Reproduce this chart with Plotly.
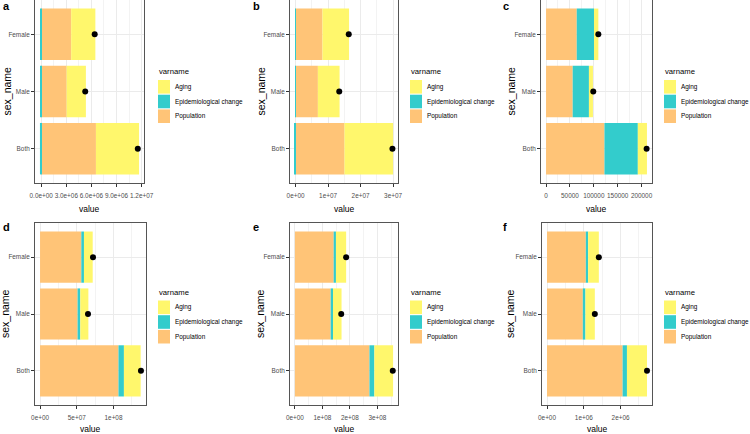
import plotly.graph_objects as go

# ---------------- data ----------------
sexes = ["Female", "Male", "Both"]
components = ["Population", "Epidemiological change", "Aging"]
legend_order = ["Aging", "Epidemiological change", "Population"]
panel_labels = ["a", "b", "c", "d", "e", "f"]

a_population = [3.58e6, 3.04e6, 6.54e6]
a_epidemiological = [-0.08e6, -0.08e6, -0.15e6]
a_aging = [2.89e6, 2.30e6, 5.15e6]
a_total = [6.39e6, 5.26e6, 11.54e6]
a_tickvals = [0, 3e6, 6e6, 9e6, 1.2e7]
a_ticktext = ["0.0e+00", "3.0e+06", "6.0e+06", "9.0e+06", "1.2e+07"]

b_population = [8.28e6, 6.87e6, 15.05e6]
b_epidemiological = [-0.1e6, -0.1e6, -0.2e6]
b_aging = [8.18e6, 6.67e6, 14.95e6]
b_total = [16.36e6, 13.44e6, 29.8e6]
b_tickvals = [0, 1e7, 2e7, 3e7]
b_ticktext = ["0e+00", "1e+07", "2e+07", "3e+07"]

c_population = [64300, 55800, 122300]
c_epidemiological = [36100, 34000, 69900]
c_aging = [9100, 8400, 19100]
c_total = [109500, 98900, 210600]
c_tickvals = [0, 50000, 100000, 150000, 200000]
c_ticktext = ["0", "50000", "100000", "150000", "200000"]

d_population = [56.2e6, 51.1e6, 106.8e6]
d_epidemiological = [3.6e6, 3.7e6, 7.4e6]
d_aging = [11.9e6, 11.0e6, 22.8e6]
d_total = [72.1e6, 65.3e6, 137.4e6]
d_tickvals = [0, 5e7, 1e8]
d_ticktext = ["0e+00", "5e+07", "1e+08"]

e_population = [141.0e6, 130.2e6, 271.2e6]
e_epidemiological = [8.3e6, 8.4e6, 17.9e6]
e_aging = [37.1e6, 31.1e6, 68.1e6]
e_total = [186.4e6, 168.5e6, 356.0e6]
e_tickvals = [0, 1e8, 2e8, 3e8]
e_ticktext = ["0e+00", "1e+08", "2e+08", "3e+08"]

f_population = [1.055e6, 0.973e6, 2.055e6]
f_epidemiological = [0.063e6, 0.072e6, 0.118e6]
f_aging = [0.291e6, 0.255e6, 0.545e6]
f_total = [1.409e6, 1.300e6, 2.718e6]
f_tickvals = [0, 1e6, 2e6]
f_ticktext = ["0e+00", "1e+06", "2e+06"]

panel_data = [
    (a_population, a_epidemiological, a_aging, a_total, a_tickvals, a_ticktext),
    (b_population, b_epidemiological, b_aging, b_total, b_tickvals, b_ticktext),
    (c_population, c_epidemiological, c_aging, c_total, c_tickvals, c_ticktext),
    (d_population, d_epidemiological, d_aging, d_total, d_tickvals, d_ticktext),
    (e_population, e_epidemiological, e_aging, e_total, e_tickvals, e_ticktext),
    (f_population, f_epidemiological, f_aging, f_total, f_tickvals, f_ticktext),
]

# ---------------- style / layout ----------------
W, H = 750, 434
colors = {"Population": "#FFC477", "Epidemiological change": "#33CCCC", "Aging": "#FFF76C"}
FONT = "Liberation Sans, Arial, sans-serif"
TICK_SIZE = 6.4

# panel boxes in pixels: (left, right, top, bottom)
boxes = [
    (35, 144, 0, 183), (290, 398, 0, 183), (541, 652, 0, 183),
    (35, 146, 223, 405), (290, 398, 223, 405), (542, 652, 223, 405),
]
legend_x = [158, 410, 664, 158, 410, 664]
legend_key_top = [80, 80, 80, 300.5, 300.5, 300.5]
ytitle_x = [6, 260, 510, 5, 260, 510]
label_x = [1, 251, 501, 1, 251, 501]
label_y = [6, 6, 6, 227, 227, 227]
xtitle_y = [208.5, 208.5, 208.5, 429, 429, 429]
KEY_W, KEY_H, KEY_STEP = 12, 13.6, 14.7

fig = go.Figure()
annotations = []
shapes = []
for i, (pop, epi, aging, total, tv, tt) in enumerate(panel_data):
    n = i + 1
    xa = "x" if n == 1 else f"x{n}"
    ya = "y" if n == 1 else f"y{n}"
    for comp, vals in zip(components, [pop, epi, aging]):
        fig.add_trace(go.Bar(
            y=sexes, x=vals, orientation="h", name=comp, showlegend=False,
            marker=dict(color=colors[comp], line=dict(width=0)),
            xaxis=xa, yaxis=ya, width=0.9,
        ))
    fig.add_trace(go.Scatter(
        y=sexes, x=total, mode="markers", showlegend=False,
        marker=dict(color="black", size=6), xaxis=xa, yaxis=ya,
    ))

    neg = [min(v, 0) for v in epi]
    pos = [p + max(e, 0) + max(g, 0) for p, e, g in zip(pop, epi, aging)]
    lo = min(min(neg), 0, min(total))
    hi = max(max(pos), max(total))
    span = hi - lo
    rng = [lo - 0.05 * span, hi + 0.05 * span]

    L, R, T, B = boxes[i]
    xkey = "xaxis" if n == 1 else f"xaxis{n}"
    ykey = "yaxis" if n == 1 else f"yaxis{n}"
    fig.layout[xkey] = dict(
        domain=[L / W, R / W], anchor=ya, range=rng,
        tickmode="array", tickvals=tv, ticktext=tt, tickangle=0,
        tickfont=dict(size=TICK_SIZE, color="#4D4D4D", family=FONT),
        ticks="outside", ticklen=3, tickcolor="#333333", tickwidth=0.8,
        ticklabelstandoff=3,
        showgrid=True, gridcolor="#EBEBEB", gridwidth=1,
        minor=dict(dtick=(tv[1] - tv[0]) / 2, tick0=0, showgrid=True,
                   gridcolor="#F3F3F3", gridwidth=0.6, ticklen=0),
        showline=True, mirror=True, linecolor="#555555", linewidth=1,
        zeroline=False, fixedrange=True,
    )
    fig.layout[ykey] = dict(
        domain=[1 - B / H, 1 - T / H], anchor=xa,
        categoryorder="array", categoryarray=["Both", "Male", "Female"],
        range=[-0.6, 2.6],
        tickfont=dict(size=TICK_SIZE, color="#4D4D4D", family=FONT),
        ticks="outside", ticklen=3, tickcolor="#333333", tickwidth=0.8,
        showgrid=True, gridcolor="#EBEBEB", gridwidth=1,
        showline=True, mirror=True, linecolor="#555555", linewidth=1,
        zeroline=False, fixedrange=True,
    )

    # legend (ggplot style: title above square keys)
    lx, kt = legend_x[i], legend_key_top[i]
    annotations.append(dict(
        x=(lx - 1) / W, y=1 - (kt - 8.5) / H, xref="paper", yref="paper",
        text="varname", showarrow=False, xanchor="left", yanchor="middle",
        font=dict(size=7.7, color="black", family=FONT),
    ))
    for k, comp in enumerate(legend_order):
        top = kt + k * KEY_STEP
        shapes.append(dict(
            type="rect", xref="paper", yref="paper",
            x0=lx / W, x1=(lx + KEY_W) / W,
            y0=1 - (top + KEY_H) / H, y1=1 - top / H,
            fillcolor=colors[comp], line=dict(width=0),
        ))
        annotations.append(dict(
            x=(lx + 15) / W, y=1 - (top + KEY_H / 2) / H, xref="paper", yref="paper",
            text=comp, showarrow=False, xanchor="left", yanchor="middle",
            font=dict(size=6.4, color="black", family=FONT),
        ))

    annotations.append(dict(
        x=(L + R) / 2 / W, y=1 - xtitle_y[i] / H, xref="paper", yref="paper",
        text="value", showarrow=False, font=dict(size=8.5, color="black", family=FONT),
        xanchor="center", yanchor="middle",
    ))
    annotations.append(dict(
        x=ytitle_x[i] / W, y=1 - (T + B) / 2 / H, xref="paper", yref="paper",
        text="sex_name", textangle=-90, showarrow=False,
        font=dict(size=10.5, color="black", family=FONT),
        xanchor="center", yanchor="middle",
    ))
    annotations.append(dict(
        x=label_x[i] / W, y=1 - label_y[i] / H, xref="paper", yref="paper",
        text=f"<b>{panel_labels[i]}</b>", showarrow=False,
        font=dict(size=11, color="black", family=FONT),
        xanchor="left", yanchor="middle",
    ))

fig.update_layout(
    template="none",
    width=W, height=H, margin=dict(l=0, r=0, t=0, b=0),
    paper_bgcolor="white", plot_bgcolor="white",
    barmode="relative", bargap=0.1, showlegend=False,
    annotations=annotations, shapes=shapes, font=dict(family=FONT),
)
fig.write_html("out.html")
